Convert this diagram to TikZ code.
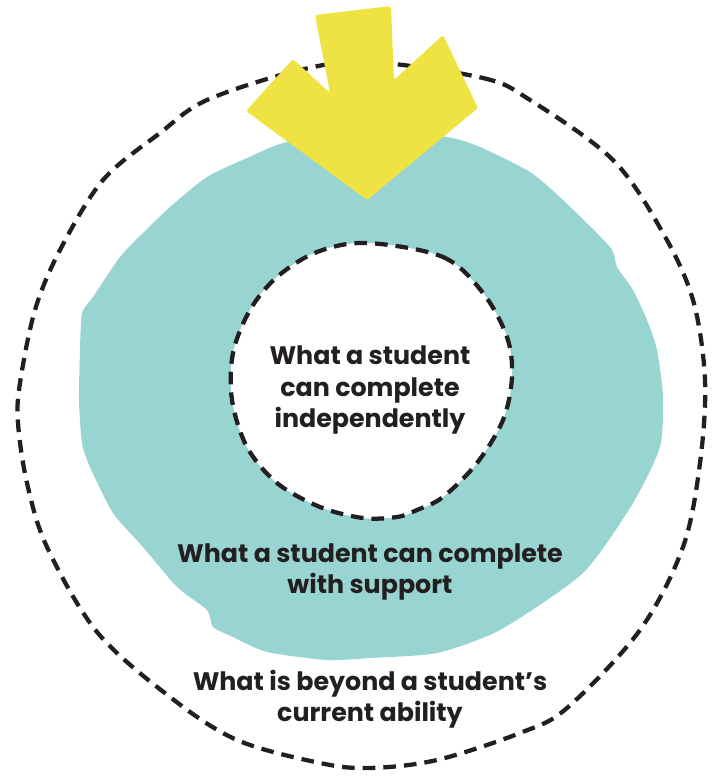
\documentclass[tikz,border=0pt]{standalone}
\usepackage{fontspec}
\setmainfont{Poppins}
\usepackage{tikz}
\usetikzlibrary{positioning}

\definecolor{zoneteal}{HTML}{98D5D2}
\definecolor{pushyellow}{HTML}{EFE343}
\definecolor{ink}{HTML}{231F20}

\begin{document}
\begin{tikzpicture}[
    x=0.75pt, y=-0.75pt,
    rim/.style={draw=ink, line width=3.2pt, dash pattern=on 9.5pt off 6pt},
    blurb/.style={align=center, text=ink, font=\fontsize{19}{23.5}\selectfont\bfseries, inner sep=0pt}
]
    \useasboundingbox (0,0) rectangle (716,776);

    % outer ring: beyond current ability
    \draw[rim] plot[smooth cycle, tension=0.55] coordinates {
        (370,62) (483,78) (530,100) (613,160) (663,233) (693,300) (705,380)
        (700,463) (683,547) (640,630) (567,708) (520,733) (437,760) (370,768)
        (320,763) (237,740) (170,697) (97,632) (47,547) (27,483) (18,423)
        (20,383) (35,310) (60,250) (103,180) (160,133) (207,100) (300,70)};

    % teal zone: with support
    \fill[zoneteal] plot[smooth cycle, tension=0.4] coordinates {
        (367,130) (447,137) (480,147) (530,172) (563,200) (610,247) (617,267)
        (633,290) (647,320) (657,350) (663,397) (660,447) (633,503) (583,573)
        (500,630) (437,653) (370,658) (327,660) (267,652) (233,637) (213,627)
        (207,610) (177,587) (143,547) (113,513) (90,467) (82,443) (79,400)
        (80,350) (82,313) (93,297) (120,257) (143,233) (170,207) (207,177)
        (247,158) (287,142)};

    % arrow pushing in from the top
    \fill[pushyellow, rounded corners=2pt] (315,15) -- (391,6) -- (394,80)
        -- (443,35) -- (478,108) -- (367,200) -- (246,111) -- (293,59)
        -- (330,93) -- cycle;

    % inner circle: independent work
    \filldraw[rim, fill=white] plot[smooth cycle, tension=0.55] coordinates {
        (367,243) (443,257) (483,293) (507,337) (512,377) (503,420) (477,463)
        (443,497) (417,510) (397,517) (363,518) (320,507) (277,483) (247,447)
        (232,400) (233,353) (250,310) (277,277) (317,252)};

    \node[blurb] (alone) at (370,390) {What a student\\can complete\\independently};
    \node[blurb] (helped) at (370,572) {What a student can complete\\with support};
    \node[blurb] (beyond) at (370,699) {What is beyond a student’s\\current ability};
\end{tikzpicture}
\end{document}
